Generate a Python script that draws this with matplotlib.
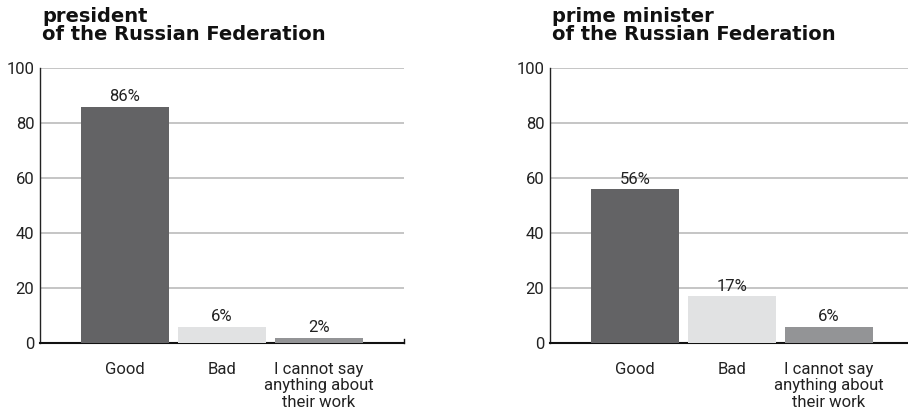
import matplotlib
matplotlib.use("Agg")
import matplotlib.pyplot as plt

plt.rcParams['font.family'] = ['Roboto', 'DejaVu Sans']

categories = ["Good", "Bad", "I cannot say\nanything about\ntheir work"]
president = [86, 6, 2]
prime_minister = [56, 17, 6]
titles = ["president\nof the Russian Federation", "prime minister\nof the Russian Federation"]
yticks = [0, 20, 40, 60, 80, 100]
bar_colors = ["#636365", "#e1e2e3", "#939496"]

fig = plt.figure(figsize=(9.08, 4.2), dpi=100)
W, H = 908, 420
panels = [(40, president, titles[0]), (550, prime_minister, titles[1])]

for left_px, values, title in panels:
    ax = fig.add_axes([left_px / W, (420 - 343) / H, 364 / W, 275 / H])
    x = list(range(len(categories)))
    ax.bar(x, values, width=0.907, color=bar_colors, zorder=3)
    ax.set_xlim(-0.876, 2.876)
    ax.set_ylim(0, 100)
    ax.set_yticks(yticks)
    ax.set_yticklabels([str(t) for t in yticks], fontsize=12, color="#222222")
    ax.grid(axis='y', color="#bbbbbb", linewidth=1.2, zorder=0)
    ax.set_xticks(x)
    ax.set_xticklabels(categories, fontsize=12, color="#222222", linespacing=1.12, va='top')
    ax.tick_params(axis='x', length=0, pad=13.5)
    ax.tick_params(axis='y', length=0, pad=4)
    for s in ['top', 'right']:
        ax.spines[s].set_visible(False)
    ax.spines['left'].set_color('#222222')
    ax.spines['bottom'].set_color('#111111')
    ax.spines['left'].set_linewidth(1.0)
    ax.spines['bottom'].set_linewidth(1.5)
    # small end tick on right of baseline
    ax.plot([1, 1], [0, 0.016], transform=ax.transAxes, color='#111111',
            linewidth=1.0, clip_on=False, zorder=4)
    for xi, v in zip(x, values):
        ax.annotate(f"{v}%", (xi, v), xytext=(0, 1.5), textcoords='offset points',
                    ha='center', va='bottom', fontsize=12, color="#222222")
    fig.text((left_px + 2) / W, 1 - 7.5 / H, title, ha='left', va='top',
             fontsize=14, fontweight='bold', linespacing=0.92, color='#111111',
             family=['DejaVu Sans'])

fig.savefig("out.png", dpi=100)
